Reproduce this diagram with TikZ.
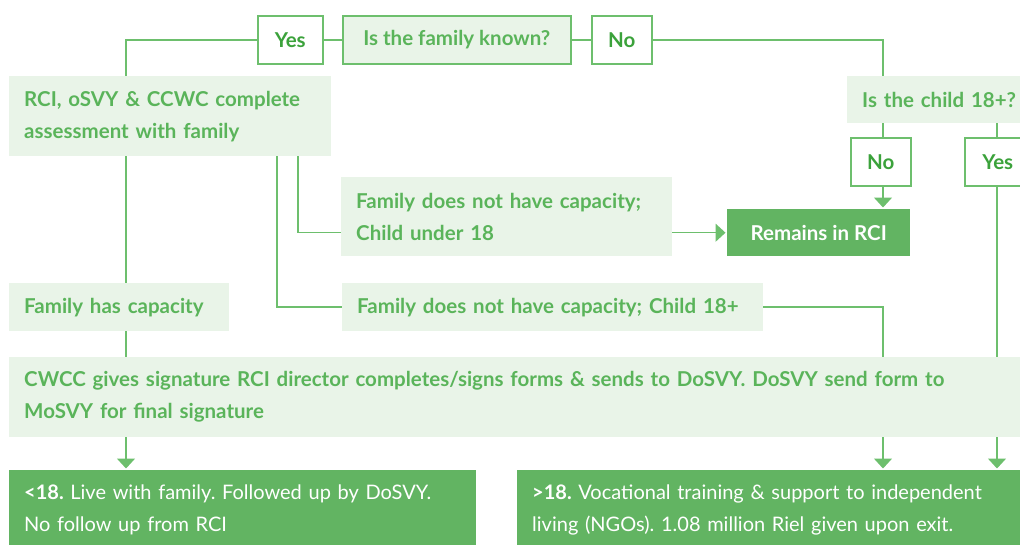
\documentclass[tikz,border=0pt]{standalone}
\usepackage{fontspec}
\setmainfont{Lato}
\usetikzlibrary{arrows.meta,backgrounds}

\definecolor{lightg}{HTML}{E9F4E8}
\definecolor{darkg}{HTML}{62B462}
\definecolor{lineg}{HTML}{6DBF6D}
\definecolor{textg}{HTML}{5AB45A}
\definecolor{ansg}{HTML}{3BA23B}
\newcommand\fsz{\fontsize{20.5pt}{32pt}\selectfont}
\newcommand\fszr{\fontsize{20pt}{32pt}\selectfont}
\frenchspacing

\begin{document}
\begin{tikzpicture}[x=1pt,y=-1pt,
  qbox/.style={fill=lightg,text=textg,font=\fsz\bfseries,inner xsep=15pt,inner ysep=0pt,anchor=north west,align=left},
  ans/.style={draw=lineg,line width=1.5pt,fill=white,text=ansg,font=\fsz\bfseries,anchor=north west,inner sep=0pt},
  endbox/.style={fill=darkg,text=white,font=\fszr,inner xsep=15pt,inner ysep=0pt,anchor=north west,align=left},
  link/.style={lineg,line width=1.5pt},
  arr/.style={link,-{Triangle[width=18pt,length=10pt]},shorten >=1.5pt}
]
  \path[use as bounding box] (0,0) rectangle (1020,544);
  \clip (0,0) rectangle (1020,544);

  % question and answer boxes
  \node[ans,minimum width=65pt,minimum height=48pt] (yesA) at (257,15) {Yes};
  \node[qbox,draw=lineg,line width=1.5pt,minimum width=228pt,minimum height=48pt,inner xsep=0pt,align=center] (known) at (342,15) {Is the family known?};
  \node[ans,minimum width=60pt,minimum height=48pt] (noA) at (591,15) {No};
  \node[qbox,text width=292pt,minimum height=80pt] (rci) at (9,76) {RCI, oSVY \& CCWC complete\\assessment with family};
  \node[qbox,text width=200pt,minimum height=47pt] (child) at (847,76) {Is the child 18+?};
  \node[ans,minimum width=60pt,minimum height=48pt] (noB) at (850,137) {No};
  \node[ans,minimum width=66pt,minimum height=48pt] (yesB) at (964,137) {Yes};
  \node[qbox,text width=301pt,minimum height=79pt] (under) at (341,177) {Family does not have capacity;\\Child under 18};
  \node[endbox,font=\fsz\bfseries,minimum width=183pt,minimum height=47pt,inner xsep=0pt,align=center] (remains) at (727,209) {Remains in RCI};
  \node[qbox,text width=190pt,minimum height=48pt] (hascap) at (9,283) {Family has capacity};
  \node[qbox,text width=391pt,minimum height=48pt] (over) at (342,283) {Family does not have capacity; Child 18+};
  \node[qbox,text width=1000pt,minimum height=80pt] (cwcc) at (9,357) {CWCC gives signature RCI director completes/signs forms \& sends to DoSVY. DoSVY send form to\\MoSVY for final signature};

  % outcomes
  \node[endbox,text width=437pt,minimum height=80pt] (stay) at (9,470) {\textbf{<18.} Live with family. Followed up by DoSVY.\\No follow up from RCI};
  \node[endbox,text width=490pt,minimum height=80pt] (leave) at (517,470) {\textbf{>18.} Vocational training \& support to independent\\living (NGOs). 1.08 million Riel given upon exit.};

  % columns of the connectors
  \coordinate (c1) at (126,0);
  \coordinate (c2) at (883,0);
  \coordinate (c3) at (997,0);
  \coordinate (c4) at (298,0);
  \coordinate (c5) at (277,0);

  \begin{scope}[on background layer]
    \draw[link] (known) -- (yesA);
    \draw[link] (yesA) -| (c1 |- rci.north);
    \draw[link] (c1 |- rci.south) -- (c1 |- hascap.north);
    \draw[link] (c1 |- hascap.south) -- (c1 |- cwcc.north);
    \draw[arr] (c1 |- cwcc.south) -- (c1 |- stay.north);
    \draw[link] (known) -- (noA);
    \draw[link] (noA) -| (c2 |- child.north);
    \draw[link] (c2 |- child.south) -- (c2 |- noB.north);
    \draw[arr] (c2 |- noB.south) -- (c2 |- remains.north);
    \draw[link] (c3 |- child.south) -- (c3 |- yesB.north);
    \draw[link] (c3 |- yesB.south) -- (c3 |- cwcc.north);
    \draw[arr] (c3 |- cwcc.south) -- (c3 |- leave.north);
    \draw[link] (c4 |- rci.south) |- (under.west |- remains);
    \draw[arr] (under.east |- remains) -- (remains);
    \draw[link] (c5 |- rci.south) |- (over);
    \draw[link] (over) -| (c2 |- cwcc.north);
    \draw[arr] (c2 |- cwcc.south) -- (c2 |- leave.north);
  \end{scope}
\end{tikzpicture}
\end{document}
